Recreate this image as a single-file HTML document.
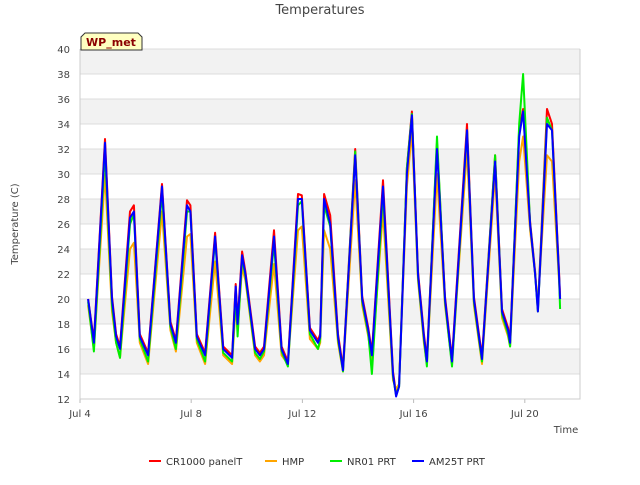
<!DOCTYPE html>
<html><head><meta charset="utf-8"><style>
body{margin:0;background:#fff;font-family:"Liberation Sans",sans-serif;}
svg text{font-family:"DejaVu Sans","Liberation Sans",sans-serif;}
</style></head><body>
<svg id="c" width="640" height="480">
<text x="320" y="14" text-anchor="middle" font-size="13" fill="#444">Temperatures</text>
<g id="bands"></g><g id="grid"></g><g id="series"></g><g id="axes"></g>
<text x="18" y="224" transform="rotate(-90 18 224)" text-anchor="middle" font-size="10" fill="#444">Temperature (C)</text>
<text x="566" y="433" text-anchor="middle" font-size="10" fill="#444">Time</text>
<g>
<path d="M81,50 L81,37 L85,33 L138,33 L142,37 L142,50 Z" fill="#ffffc0" stroke="#333" stroke-width="1"/>
<text x="111" y="46" text-anchor="middle" font-size="11" font-weight="bold" fill="#8b0000">WP_met</text></g>
<g id="legend"></g>
</svg>
<script>
const ticksY=[12,14,16,18,20,22,24,26,28,30,32,34,36,38,40];
const ticksX=[0,4,8,12,16];
const tickXLabels=["Jul 4","Jul 8","Jul 12","Jul 16","Jul 20"];
const seriesNames=["CR1000 panelT","HMP","NR01 PRT","AM25T PRT"];
const seriesColors=["#ff0000","#ffa500","#00ee00","#0000ff"];
const times=[0.29,0.5,0.9,1.15,1.3,1.44,1.8,1.94,2.15,2.45,2.95,3.25,3.45,3.85,3.97,4.2,4.5,4.86,5.15,5.47,5.6,5.67,5.83,5.95,6.3,6.47,6.62,6.98,7.25,7.48,7.84,7.98,8.27,8.56,8.64,8.78,9.0,9.28,9.46,9.9,10.15,10.37,10.5,10.9,11.26,11.37,11.48,11.76,11.94,12.16,12.37,12.48,12.84,13.13,13.38,13.92,14.17,14.46,14.93,15.18,15.4,15.47,15.8,15.94,16.19,16.37,16.47,16.8,16.98,17.23,17.27];
const cr1000=[20,16.7,32.8,20.2,17.2,16.2,27,27.5,17.2,15.7,29.2,18.2,16.7,27.9,27.5,17.2,15.7,25.3,16.2,15.5,21.2,18.2,23.8,22.2,16.2,15.7,16.2,25.5,16.2,15,28.4,28.3,17.7,16.7,17.2,28.4,26.7,17.2,14.5,32,20.2,17.7,15.7,29.5,14.2,12.4,13.2,30.5,35,22.2,17.2,15.2,32.5,20.2,15.2,34,20.2,15.4,31.5,19.2,17.7,16.7,33.5,35.2,26.2,22.2,19.2,35.2,34,22.2,20.2];
const hmp=[19.5,16,30,19,16.5,15.3,24,24.5,16.5,14.8,27,17.5,15.8,25,25.2,16.5,14.8,23,15.5,14.8,19.5,17.5,22.5,21.5,15.5,15,15.5,22.8,15.5,14.8,25.5,25.8,16.8,16,16.5,25.5,24,16.5,14.2,29.5,19.5,17,15,27,13.5,12.8,13.2,29,33.5,21.5,16.5,14.8,30,19.5,14.8,32,19.5,14.8,30,18.5,17,16.2,31,33,25.5,22,19.5,31.5,31,21.5,20];
const nr01=[19.8,15.8,31.8,19.5,16.5,15.3,26,26.8,16.8,15,28.5,17.8,16,27,27,16.8,15,24.8,15.7,15,20.5,17,23.3,21.8,15.7,15.2,15.8,24.5,15.8,14.6,27.5,27.8,17.2,16,16.8,27.5,25.8,16.8,14.2,31.8,19.8,17.2,14,28.5,13.8,12.3,13,30.5,34.8,21.8,16.8,14.6,33,19.8,14.6,33.5,19.8,15,31.5,18.8,17.2,16.2,34,38,26,22,19,34.5,33.5,21.8,19.2];
const am25t=[20,16.5,32.5,20,17,16,26.5,27,17,15.5,29,18,16.5,27.5,27,17,15.5,25,16,15.3,21,18,23.5,22,16,15.5,16,25,16,14.8,28,28,17.5,16.5,17,28,26,17,14.3,31.5,20,17.5,15.5,29,14,12.2,13,30,34.7,22,17,15,32,20,15,33.5,20,15.2,31,19,17.5,16.5,33,35,26,22,19,34,33.5,22,20];
const allSeries=[cr1000,hmp,nr01,am25t];

const L=80,R=580,T=49,B=399,NS="http://www.w3.org/2000/svg";
const xs=d=>L+(d-0)*27.8;
const ys=v=>B-(v-12)*(B-T)/28;
function mk(tag,attrs,parent){const e=document.createElementNS(NS,tag);for(const k in attrs)e.setAttribute(k,attrs[k]);document.getElementById(parent).appendChild(e);return e;}
for(let i=0;i<ticksY.length-1;i++){
  if(i%2===1){const r=mk('rect',{x:L,y:ys(ticksY[i+1]),width:R-L,height:ys(ticksY[i])-ys(ticksY[i+1]),fill:'#f2f2f2'},'bands');
  
  }
}
ticksY.forEach(v=>{
  const l=mk('line',{x1:L,x2:R,y1:ys(v),y2:ys(v),stroke:'#dcdcdc','stroke-width':1},'grid');
  
  
  const t=mk('text',{x:L-10,y:ys(v)+4,'text-anchor':'end','font-size':10,fill:'#444'},'axes');
  t.textContent=v;
  
  
});
ticksX.forEach((d,i)=>{
  const t=mk('text',{x:xs(d),y:417,'text-anchor':'middle','font-size':10,fill:'#444'},'axes');
  t.textContent=tickXLabels[i];
  
  
  const k=mk('line',{x1:xs(d),x2:xs(d),y1:B,y2:B+4,stroke:'#bbb'},'axes');
  
  
});
const ax=mk('path',{d:`M${L},${T} L${L},${B} L${R},${B} L${R},${T}`,fill:'none',stroke:'#ccc'},'axes');


allSeries.forEach((s,j)=>{
  const d=s.map((v,i)=>(i?'L':'M')+xs(times[i]).toFixed(1)+','+ys(v).toFixed(1)).join(' ');
  const p=mk('path',{d:d,fill:'none',stroke:seriesColors[j],'stroke-width':2,'stroke-linejoin':'round'},'series');
  
  
});
const lx=[149,265,330,412];
seriesNames.forEach((n,j)=>{
  const g=mk('g',{},'legend');
  
  
  const ln=document.createElementNS(NS,'line');
  ln.setAttribute('x1',lx[j]);ln.setAttribute('x2',lx[j]+12);ln.setAttribute('y1',461);ln.setAttribute('y2',461);
  ln.setAttribute('stroke',seriesColors[j]);ln.setAttribute('stroke-width',2);g.appendChild(ln);
  const t=document.createElementNS(NS,'text');
  t.setAttribute('x',lx[j]+17);t.setAttribute('y',465);t.setAttribute('font-size',10);t.setAttribute('fill','#333');
  t.textContent=n;g.appendChild(t);
});
</script>
</body></html>
